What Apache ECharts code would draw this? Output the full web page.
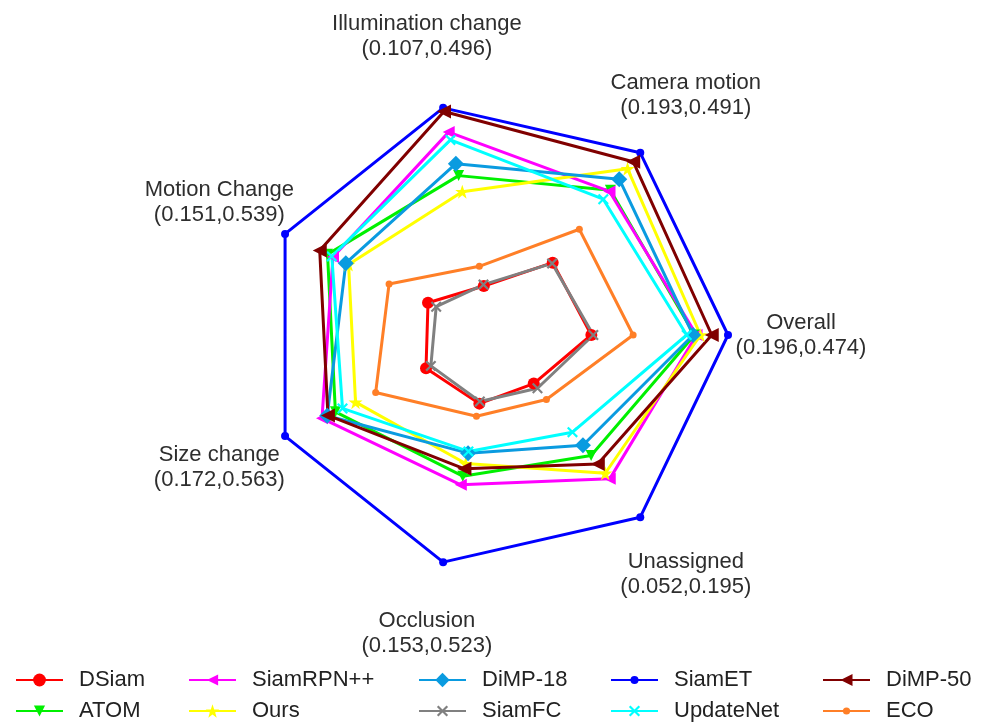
<!DOCTYPE html>
<html>
<head>
<meta charset="utf-8">
<script src="https://cdn.jsdelivr.net/npm/echarts@6/dist/echarts.min.js"></script>
<style>
  html, body { margin: 0; padding: 0; background: #ffffff; }
  #chart { width: 988px; height: 723px; }
</style>
</head>
<body>
<div id="chart"></div>
<script>
// Attribute axes (counter-clockwise from the right) and their (min,max) ranges
const attributes = ['Overall', 'Camera motion', 'Illumination change', 'Motion Change', 'Size change', 'Occlusion', 'Unassigned'];
const rangeMin = [0.196, 0.193, 0.107, 0.151, 0.172, 0.153, 0.052];
const rangeMax = [0.474, 0.491, 0.496, 0.539, 0.563, 0.523, 0.195];

// Trackers, in legend order
const trackers = ['DSiam', 'ATOM', 'SiamRPN++', 'Ours', 'DiMP-18', 'SiamFC', 'SiamET', 'UpdateNet', 'DiMP-50', 'ECO'];

// Scores per attribute, same order as `attributes`
const dsiam     = [0.196, 0.195, 0.107, 0.172, 0.185, 0.158, 0.052];
const atom      = [0.406, 0.390, 0.348, 0.430, 0.428, 0.325, 0.129];
const siamrpnpp = [0.410, 0.387, 0.443, 0.416, 0.464, 0.345, 0.154];
const ours      = [0.418, 0.448, 0.313, 0.376, 0.374, 0.296, 0.148];
const dimp18    = [0.403, 0.420, 0.374, 0.383, 0.450, 0.272, 0.118];
const siamfc    = [0.200, 0.193, 0.110, 0.151, 0.172, 0.153, 0.057];
const siamet    = [0.474, 0.491, 0.496, 0.539, 0.563, 0.523, 0.195];
const updatenet = [0.390, 0.366, 0.426, 0.419, 0.409, 0.268, 0.104];
const dimp50    = [0.441, 0.467, 0.488, 0.450, 0.448, 0.308, 0.138];
const eco       = [0.281, 0.285, 0.150, 0.272, 0.320, 0.187, 0.069];

const scores = [dsiam, atom, siamrpnpp, ours, dimp18, siamfc, siamet, updatenet, dimp50, eco];

// Marker shapes
const STAR = 'path://M50,0L61.8,34.5L97.6,34.5L68.8,55.9L79.4,90.5L50,69L20.6,90.5L31.2,55.9L2.4,34.5L38.2,34.5Z';
const CROSS = 'path://M0,14L14,0L50,36L86,0L100,14L64,50L100,86L86,100L50,64L14,100L0,86L36,50Z';

const looks = {
  'DSiam':     { color: '#ff0000', symbol: 'circle',   rotate: 0,   size: 12, legendH: 16 },
  'ATOM':      { color: '#00f000', symbol: 'triangle', rotate: 180, size: 11, legendH: 14 },
  'SiamRPN++': { color: '#ff00ff', symbol: 'triangle', rotate: 90,  size: 12, legendH: 14 },
  'Ours':      { color: '#ffff00', symbol: STAR,       rotate: 0,   size: 14, legendH: 17 },
  'DiMP-18':   { color: '#0a9be0', symbol: 'diamond',  rotate: 0,   size: 16, legendH: 18 },
  'SiamFC':    { color: '#808080', symbol: CROSS,      rotate: 0,   size: 11, legendH: 14 },
  'SiamET':    { color: '#0000ff', symbol: 'circle',   rotate: 0,   size: 8,  legendH: 10 },
  'UpdateNet': { color: '#00ffff', symbol: CROSS,      rotate: 0,   size: 11, legendH: 14 },
  'DiMP-50':   { color: '#800000', symbol: 'triangle', rotate: 90,  size: 14, legendH: 15 },
  'ECO':       { color: '#ff7f27', symbol: 'circle',   rotate: 0,   size: 7,  legendH: 9 }
};

const FONT = 'Liberation Sans, Arial, sans-serif';
const CX = 495, CY = 335, R = 233, LABEL_R = 306;

const chart = echarts.init(document.getElementById('chart'), null, { renderer: 'canvas' });

// Axis titles with their ranges, centred on each spoke outside the plot
const fmt = v => v.toFixed(3);
const titles = attributes.map((name, i) => {
  const a = i * 2 * Math.PI / attributes.length;
  return {
    type: 'text',
    x: CX + LABEL_R * Math.cos(a),
    y: CY - LABEL_R * Math.sin(a),
    style: {
      text: name + '\n(' + fmt(rangeMin[i]) + ',' + fmt(rangeMax[i]) + ')',
      fontSize: 22,
      fontFamily: FONT,
      lineHeight: 25,
      fill: '#2e2e2e',
      align: 'center',
      textAlign: 'center',
      verticalAlign: 'middle',
      textVerticalAlign: 'middle'
    }
  };
});

// Legend laid out in two rows, filled column by column
const colX = [15, 188, 418, 610, 822];
const rowY = [680, 711];
const legends = trackers.map((name, k) => {
  const col = Math.floor(k / 2), row = k % 2;
  return {
    data: [name],
    left: colX[col] - 5,
    top: rowY[row] - 18,
    itemWidth: 47,
    itemHeight: looks[name].legendH,
    textStyle: { fontSize: 22, fontFamily: FONT, color: '#222222', lineHeight: 26, padding: [0, 0, 0, 11] }
  };
});

// Empty line series give each legend entry a line-plus-marker icon
const legendSeries = trackers.map(name => ({
  type: 'line',
  name: name,
  data: [],
  symbol: looks[name].symbol,
  symbolRotate: looks[name].rotate,
  lineStyle: { color: looks[name].color, width: 3 },
  itemStyle: { color: looks[name].color }
}));

const radarSeries = trackers.map((name, k) => ({
  type: 'radar',
  name: name,
  symbol: looks[name].symbol,
  symbolSize: looks[name].size,
  symbolRotate: looks[name].rotate,
  lineStyle: { color: looks[name].color, width: 3 },
  itemStyle: { color: looks[name].color },
  areaStyle: null,
  emphasis: { disabled: true },
  data: [{ name: name, value: scores[k] }]
}));

chart.setOption({
  backgroundColor: '#ffffff',
  animation: false,
  grid: { left: 0, top: 0, width: 10, height: 10, show: false },
  xAxis: { type: 'value', show: false },
  yAxis: { type: 'value', show: false },
  radar: {
    center: [CX, CY],
    radius: R,
    startAngle: 0,
    shape: 'polygon',
    splitNumber: 5,
    indicator: attributes.map((name, i) => ({ name: name, min: 0, max: rangeMax[i] })),
    axisName: { show: false },
    axisLine: { show: false },
    axisTick: { show: false },
    axisLabel: { show: false },
    splitLine: { show: false },
    splitArea: { show: false }
  },
  legend: legends,
  graphic: titles,
  series: legendSeries.concat(radarSeries)
});
</script>
</body>
</html>
